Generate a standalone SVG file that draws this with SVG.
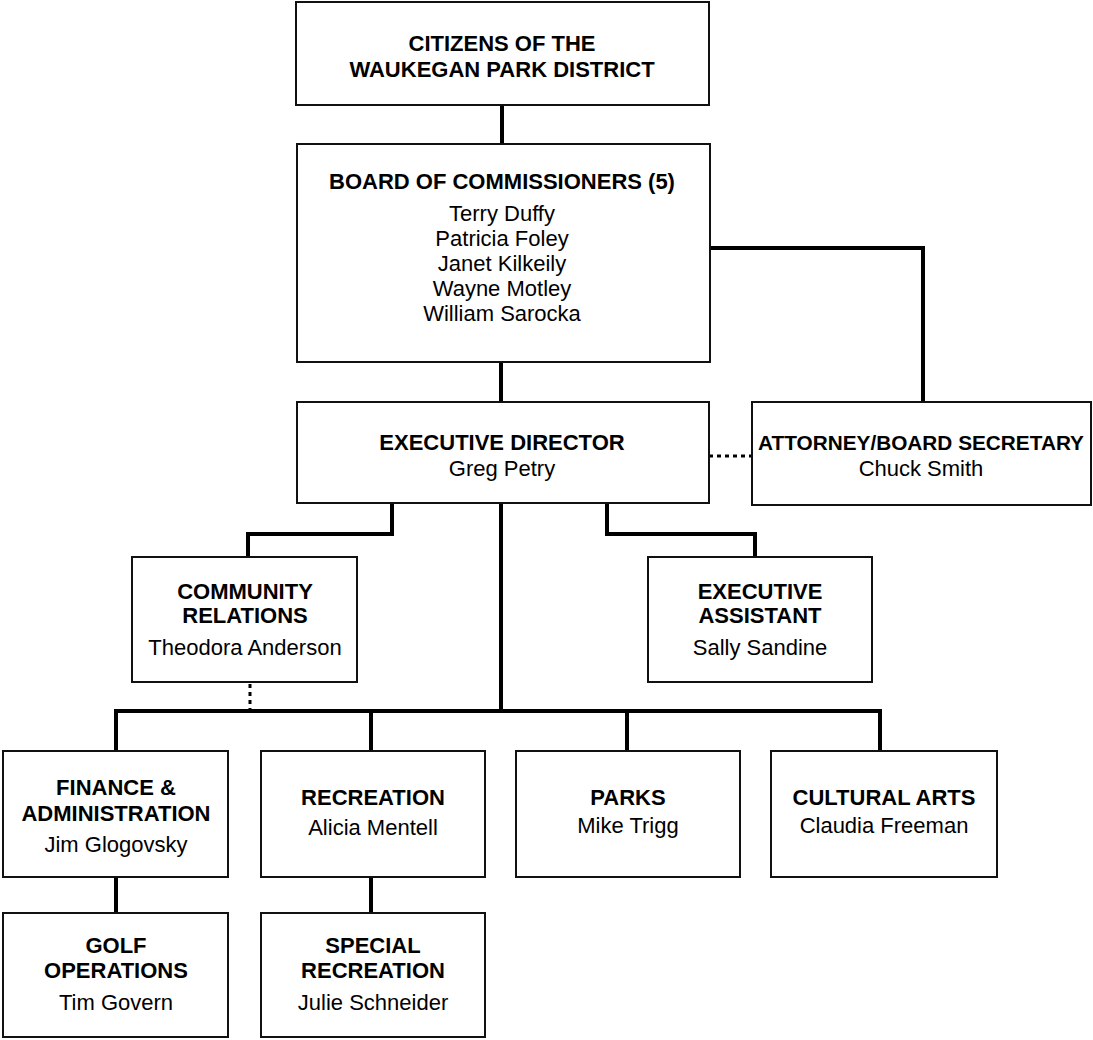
<svg xmlns="http://www.w3.org/2000/svg" width="1093" height="1040" viewBox="0 0 1093 1040">
<style>
.box{fill:#fff;stroke:#111;stroke-width:2}
.t{font-family:"Liberation Sans",Arial,sans-serif;font-size:22px;font-weight:bold;text-anchor:middle;fill:#000}
.n{font-family:"Liberation Sans",Arial,sans-serif;font-size:22px;text-anchor:middle;fill:#000}
.c{fill:none;stroke:#000;stroke-width:4}
.d{fill:none;stroke:#000;stroke-width:3;stroke-dasharray:4 4}
</style>
<rect width="1093" height="1040" fill="#fff"/>
<g id="connectors">
<path class="c" d="M502 105V144"/>
<path class="c" d="M501 362V402"/>
<path class="c" d="M710 248H923V402"/>
<path class="d" d="M709 456H752"/>
<path class="c" d="M392 503V534H248V557"/>
<path class="c" d="M607 503V534H755V557"/>
<path class="c" d="M501 503V711"/>
<path class="c" d="M116 751V711H880V751"/>
<path class="c" d="M371 711V751"/>
<path class="c" d="M627 711V751"/>
<path class="d" d="M250 684V709"/>
<path class="c" d="M116 877V913"/>
<path class="c" d="M371 877V913"/>
</g>
<g id="citizens">
<rect class="box" x="296" y="2" width="413" height="103"/>
<text class="t" x="502" y="51">CITIZENS OF THE</text>
<text class="t" x="502" y="77">WAUKEGAN PARK DISTRICT</text>
</g>
<g id="board">
<rect class="box" x="297" y="144" width="413" height="218"/>
<text class="t" x="502" y="189">BOARD OF COMMISSIONERS (5)</text>
<text class="n" x="502" y="221">Terry Duffy</text>
<text class="n" x="502" y="246">Patricia Foley</text>
<text class="n" x="502" y="271">Janet Kilkeily</text>
<text class="n" x="502" y="296">Wayne Motley</text>
<text class="n" x="502" y="321">William Sarocka</text>
</g>
<g id="executive-director">
<rect class="box" x="297" y="402" width="412" height="101"/>
<text class="t" x="502" y="450">EXECUTIVE DIRECTOR</text>
<text class="n" x="502" y="476">Greg Petry</text>
</g>
<g id="attorney">
<rect class="box" x="752" y="402" width="339" height="103"/>
<text class="t" x="921" y="450" style="font-size:21px" textLength="326" lengthAdjust="spacingAndGlyphs">ATTORNEY/BOARD SECRETARY</text>
<text class="n" x="921" y="476">Chuck Smith</text>
</g>
<g id="community-relations">
<rect class="box" x="132" y="557" width="225" height="125"/>
<text class="t" x="245" y="599">COMMUNITY</text>
<text class="t" x="245" y="623">RELATIONS</text>
<text class="n" x="245" y="655">Theodora Anderson</text>
</g>
<g id="executive-assistant">
<rect class="box" x="648" y="557" width="224" height="125"/>
<text class="t" x="760" y="599">EXECUTIVE</text>
<text class="t" x="760" y="623">ASSISTANT</text>
<text class="n" x="760" y="655">Sally Sandine</text>
</g>
<g id="finance">
<rect class="box" x="3" y="751" width="225" height="126"/>
<text class="t" x="116" y="795">FINANCE &amp;</text>
<text class="t" x="116" y="821">ADMINISTRATION</text>
<text class="n" x="116" y="852">Jim Glogovsky</text>
</g>
<g id="recreation">
<rect class="box" x="261" y="751" width="224" height="126"/>
<text class="t" x="373" y="805">RECREATION</text>
<text class="n" x="373" y="835">Alicia Mentell</text>
</g>
<g id="parks">
<rect class="box" x="516" y="751" width="224" height="126"/>
<text class="t" x="628" y="805">PARKS</text>
<text class="n" x="628" y="833">Mike Trigg</text>
</g>
<g id="cultural-arts">
<rect class="box" x="771" y="751" width="226" height="126"/>
<text class="t" x="884" y="805">CULTURAL ARTS</text>
<text class="n" x="884" y="833">Claudia Freeman</text>
</g>
<g id="golf">
<rect class="box" x="3" y="913" width="225" height="124"/>
<text class="t" x="116" y="953">GOLF</text>
<text class="t" x="116" y="978">OPERATIONS</text>
<text class="n" x="116" y="1010">Tim Govern</text>
</g>
<g id="special-recreation">
<rect class="box" x="261" y="913" width="224" height="124"/>
<text class="t" x="373" y="953">SPECIAL</text>
<text class="t" x="373" y="978">RECREATION</text>
<text class="n" x="373" y="1010">Julie Schneider</text>
</g>
</svg>
